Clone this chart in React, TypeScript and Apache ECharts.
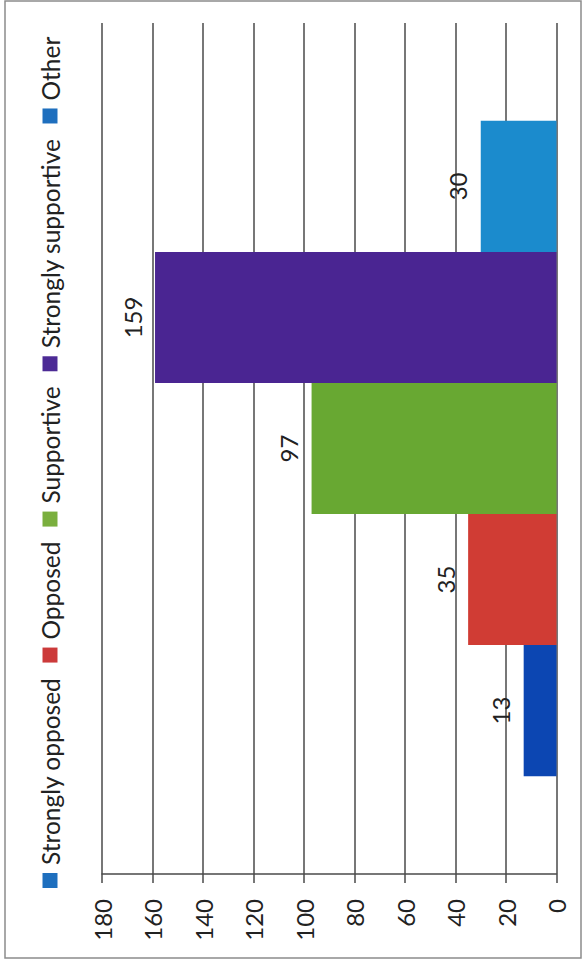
import React, { useEffect, useRef } from "react";
import * as echarts from "echarts";

// Survey response counts, one bar per response group
const responseGroups = [
  "Strongly opposed",
  "Opposed",
  "Supportive",
  "Strongly supportive",
  "Other",
];
const responseCounts = [13, 35, 97, 159, 30];
const barColors = ["#0c46b2", "#d03c34", "#68a832", "#4a2592", "#1b8bcd"];
const legendColors = ["#1e6fbe", "#cc3a3a", "#7aaf3e", "#4c2a95", "#1e6fbe"];
const valueAxisMin = 0;
const valueAxisMax = 180;
const valueAxisStep = 20;

const FONT = "Lato, 'Open Sans', sans-serif";
const CHART_W = 964;
const CHART_H = 585;

export default function App() {
  const ref = useRef<HTMLDivElement>(null);

  useEffect(() => {
    if (!ref.current) return;
    const chart = echarts.init(ref.current, undefined, {
      renderer: "svg",
      width: CHART_W,
      height: CHART_H,
    });

    const series = responseGroups.map((name, i) => ({
      name,
      type: "bar" as const,
      data: [responseCounts[i]],
      barGap: "0%",
      barCategoryGap: "23%",
      itemStyle: { color: barColors[i] },
      label: {
        show: true,
        position: "top" as const,
        distance: 11,
        fontSize: 24,
        fontFamily: FONT,
        color: "#222",
      },
    }));

    chart.setOption({
      animation: false,
      backgroundColor: "#ffffff",
      textStyle: { fontFamily: FONT },
      graphic: [
        {
          type: "rect",
          shape: { x: 6, y: 5, width: 957, height: 576 },
          style: { fill: "none", stroke: "#8c8c8c", lineWidth: 1.5 },
          silent: true,
        },
      ],
      legend: {
        left: 71,
        top: 30,
        itemWidth: 15,
        itemHeight: 15,
        itemGap: 15,
        icon: "rect",
        textStyle: {
          fontSize: 24.5,
          fontFamily: FONT,
          color: "#222",
          lineHeight: 30,
          padding: [0, 0, 0, 3],
        },
        data: responseGroups.map((name, i) => ({
          name,
          itemStyle: { color: legendColors[i] },
        })),
      },
      grid: { left: 90, right: 23, top: 102, bottom: 28.5, containLabel: false },
      xAxis: {
        type: "category",
        data: [""],
        axisLine: { show: false },
        axisTick: { show: false },
        axisLabel: { show: false },
      },
      yAxis: {
        type: "value",
        min: valueAxisMin,
        max: valueAxisMax,
        interval: valueAxisStep,
        axisLine: { show: true, lineStyle: { color: "#4a4a4a", width: 1.5 } },
        axisTick: { show: true, length: 9, lineStyle: { color: "#4a4a4a", width: 1.5 } },
        axisLabel: {
          fontSize: 24,
          fontFamily: FONT,
          color: "#222",
          margin: 25,
        },
        splitLine: { show: true, lineStyle: { color: "#4a4a4a", width: 1.5 } },
      },
      series,
    });

    return () => chart.dispose();
  }, []);

  return (
    <div
      style={{
        position: "absolute",
        left: 0,
        top: 0,
        width: CHART_H,
        height: CHART_W,
        overflow: "hidden",
        background: "#ffffff",
      }}
    >
      <div
        style={{
          position: "absolute",
          left: 0,
          top: 0,
          width: CHART_W,
          height: CHART_H,
          transformOrigin: "0 0",
          transform: `translateY(${CHART_W}px) rotate(-90deg)`,
        }}
      >
        <div ref={ref} style={{ width: CHART_W, height: CHART_H }} />
      </div>
    </div>
  );
}
